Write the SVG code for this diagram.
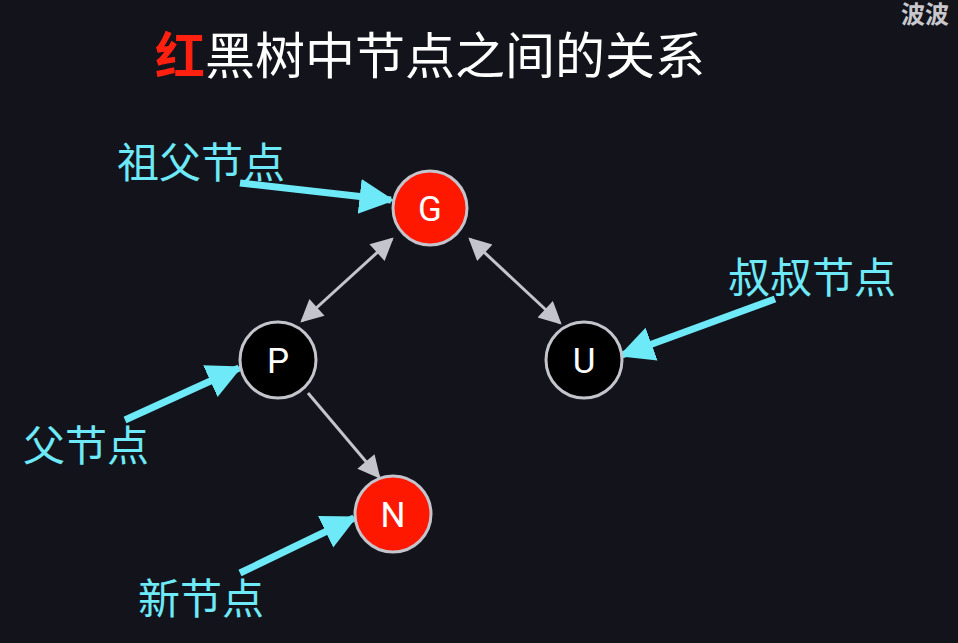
<svg xmlns="http://www.w3.org/2000/svg" width="958" height="643" viewBox="0 0 958 643">
<defs>
<style>
.bg{fill:#13131c}
.node circle{stroke:#c4c4cc;stroke-width:3}
.red circle{fill:#ff1800}
.black circle{fill:#000}
.node text{fill:#fff;font-family:Roboto,"Liberation Sans",sans-serif;font-size:35px;text-anchor:middle}
.edge{stroke:#c4c4cc;stroke-width:3;fill:none}
.pointer{stroke:#6ee9f7;stroke-width:7;fill:none}
.label{fill:#6ee9f7;font-family:"Noto Sans CJK SC","Noto Sans",sans-serif;font-size:42px}
.title{fill:#fff;font-family:"Noto Sans CJK SC","Noto Sans",sans-serif;font-size:50px}
</style>
<marker id="gh" viewBox="0 0 10 10" refX="9" refY="5" markerWidth="8" markerHeight="7.5" markerUnits="strokeWidth" orient="auto-start-reverse">
<path d="M0,0 L10,5 L0,10 z" fill="#c4c4cc"/>
</marker>
<marker id="ch" viewBox="0 0 10 10" refX="9" refY="5" markerWidth="5" markerHeight="6.5" markerUnits="strokeWidth" orient="auto">
<path d="M0,0 L10,5 L0,10 z" fill="#6ee9f7"/>
</marker>
</defs>
<rect class="bg" width="958" height="643"/>
<text x="901" y="23" style="fill:#c8c8cc;font-family:'Noto Sans CJK SC',sans-serif;font-size:24px;font-weight:bold">波波</text>
<text class="title" x="155" y="74"><tspan fill="#ff2010" font-weight="bold">红</tspan>黑树中节点之间的关系</text>
<g id="connectors">
<line class="edge" x1="392" y1="239" x2="302" y2="321" marker-start="url(#gh)" marker-end="url(#gh)"/>
<line class="edge" x1="470" y1="239" x2="560" y2="323" marker-start="url(#gh)" marker-end="url(#gh)"/>
<line class="edge" x1="308" y1="393" x2="379" y2="477" marker-end="url(#gh)"/>
<line class="pointer" x1="240" y1="183" x2="391" y2="200" marker-end="url(#ch)"/>
<line class="pointer" x1="125" y1="420" x2="239" y2="368" marker-end="url(#ch)"/>
<line class="pointer" x1="240" y1="573" x2="354" y2="518" marker-end="url(#ch)"/>
<line class="pointer" x1="775" y1="299" x2="622" y2="355" marker-end="url(#ch)"/>
</g>
<g id="node-G" class="node red"><circle cx="430" cy="208" r="37"/><text x="430" y="221">G</text></g>
<g id="node-P" class="node black"><circle cx="278" cy="360" r="38"/><text x="278" y="373">P</text></g>
<g id="node-U" class="node black"><circle cx="584" cy="360" r="38"/><text x="584" y="373">U</text></g>
<g id="node-N" class="node red"><circle cx="393" cy="514" r="38"/><text x="393" y="527">N</text></g>
<g id="label-grandparent"><text class="label" x="117" y="178">祖父节点</text></g>
<g id="label-parent"><text class="label" x="23" y="461">父节点</text></g>
<g id="label-new"><text class="label" x="138" y="614">新节点</text></g>
<g id="label-uncle"><text class="label" x="728" y="293">叔叔节点</text></g>
</svg>
